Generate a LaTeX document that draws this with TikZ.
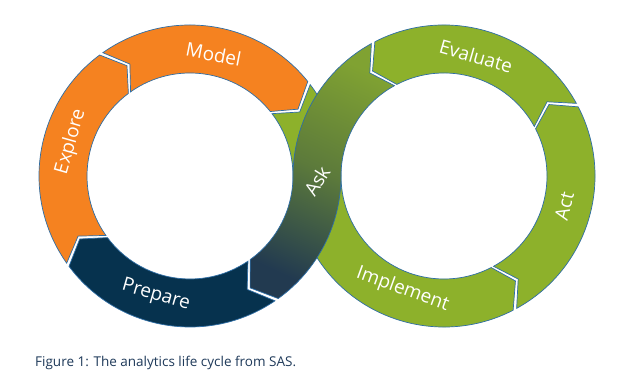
\documentclass[tikz,border=0pt]{standalone}
\usepackage{fontspec}
\setmainfont{Open Sans}
\usetikzlibrary{calc}
\definecolor{sasorange}{HTML}{F58220}
\definecolor{sasnavy}{HTML}{06324E}
\definecolor{sasgreen}{HTML}{8DB12B}
\definecolor{askgreen}{HTML}{80A232}
\definecolor{askmid}{HTML}{5C7A3B}
\definecolor{asknavy}{HTML}{223A50}
\definecolor{edgeblue}{HTML}{2F6EA5}
\definecolor{captioncol}{HTML}{1F3A5A}
\newcommand\segGap{0.75}
\newcommand\ringseg[6]{%
  \path[#6] ([shift={({#2+\segGap}:151pt)}]#1)
    arc[start angle={#2+\segGap}, end angle={#4-\segGap}, radius=151pt]
    -- ([shift={({#5-\segGap}:127pt)}]#1)
    -- ([shift={({#4-\segGap}:103pt)}]#1)
    arc[start angle={#4-\segGap}, end angle={#2+\segGap}, radius=103pt]
    -- ([shift={({#3+\segGap}:127pt)}]#1) -- cycle;}
\tikzset{
  segline/.style={draw=edgeblue, line width=0.7pt, line join=miter},
  lbl/.style={text=white, font=\fontsize{19}{19}\selectfont, inner sep=0pt},
}
\begin{document}
\begin{tikzpicture}[x=1pt, y=1pt]
\useasboundingbox[fill=white] (0,0) rectangle (626,387);
\coordinate (L) at (190,211);
\coordinate (R) at (444,211);
% left ring
\ringseg{L}{-144}{-151}{-55}{-62.5}{segline, fill=sasnavy}
\ringseg{L}{126}{119}{216}{209}{segline, fill=sasorange}
\ringseg{L}{38}{31}{126}{119}{segline, fill=sasorange}
% right ring
\ringseg{R}{-62}{-55}{28}{35}{segline, fill=sasgreen}
\ringseg{R}{28}{35}{118}{125}{segline, fill=sasgreen}
% Implement band
\path[segline, fill=sasgreen]
  ([shift={({38-\segGap}:151pt)}]L)
  arc[start angle={38-\segGap}, end angle=0, radius=151pt]
  arc[start angle=180, end angle={298-\segGap}, radius=103pt]
  -- ([shift={({305-\segGap}:127pt)}]R)
  -- ([shift={({298-\segGap}:151pt)}]R)
  arc[start angle={298-\segGap}, end angle=180, radius=151pt]
  arc[start angle=0, end angle={38-\segGap}, radius=103pt]
  -- ([shift={({31-\segGap}:127pt)}]L) -- cycle;
% Ask band
\path[segline, top color=askgreen, bottom color=asknavy, middle color=askmid, shading angle=-25]
  ([shift={({118+\segGap}:151pt)}]R)
  arc[start angle={118+\segGap}, end angle=180, radius=151pt]
  arc[start angle=0, end angle={-55+\segGap}, radius=103pt]
  -- ([shift={({-62.5+\segGap}:127pt)}]L)
  -- ([shift={({-55+\segGap}:151pt)}]L)
  arc[start angle={-55+\segGap}, end angle=0, radius=151pt]
  arc[start angle=180, end angle={118+\segGap}, radius=103pt]
  -- ([shift={({125+\segGap}:127pt)}]R) -- cycle;
% labels
\node[lbl, rotate=-11] (model) at ([shift={(79:124pt)}]L) {Model};
\node[lbl, rotate=74] (explore) at ([shift={(164:124pt)}]L) {Explore};
\node[lbl, rotate=-16] (prepare) at ([shift={(254:124pt)}]L) {Prepare};
\node[lbl, rotate=58] (ask) at (317,206) {Ask};
\node[lbl, rotate=-16] (evaluate) at ([shift={(75:124pt)}]R) {Evaluate};
\node[lbl, rotate=76] (act) at ([shift={(-14:124pt)}]R) {Act};
\node[lbl, rotate=-20] (implement) at ([shift={(250:121pt)}]R) {Implement};
% caption
\node[anchor=base west, inner sep=0pt, text=captioncol, font=\fontsize{13.5}{14}\selectfont] (caption) at (35,20.5) {Figure 1: The analytics life cycle from SAS.};
\end{tikzpicture}
\end{document}
